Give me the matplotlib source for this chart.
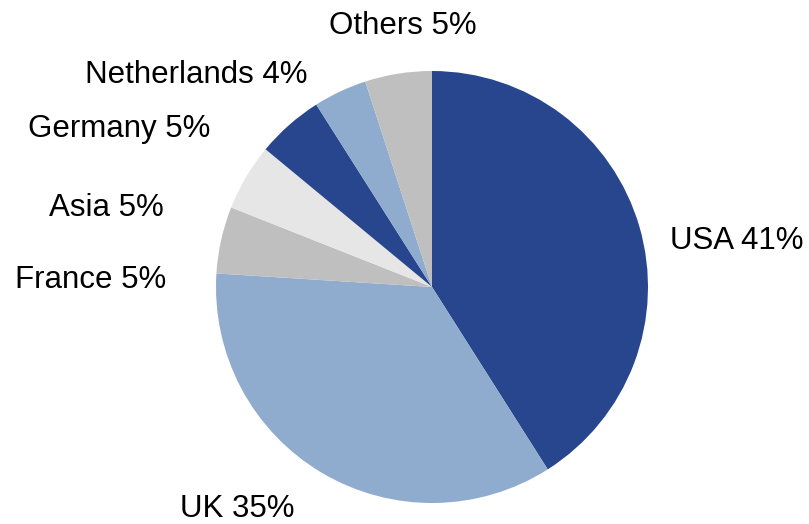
import matplotlib.pyplot as plt

# Share of total by region
regions = ['USA', 'UK', 'France', 'Asia', 'Germany', 'Netherlands', 'Others']
shares = [41, 35, 5, 5, 5, 4, 5]

dark_blue = '#28468D'
light_blue = '#8FACCF'
grey = '#BFBFBF'
light_grey = '#E6E6E6'
colors = [dark_blue, light_blue, grey, light_grey, dark_blue, light_blue, grey]

# label anchors in pixel space (x, baseline y from top, alignment)
label_pos = [
    (670, 249, 'left'),
    (237, 517, 'center'),
    (166, 288, 'right'),
    (164, 216, 'right'),
    (210, 137, 'right'),
    (308, 83, 'right'),
    (403, 34, 'center'),
]

W, H = 809, 524
fig = plt.figure(figsize=(W / 100, H / 100), dpi=100)
ax = fig.add_axes([0, 0, 1, 1])
ax.set_xlim(0, W)
ax.set_ylim(0, H)
ax.set_aspect('equal')
ax.axis('off')

# pie laid out directly in pixel units, clockwise from 12 o'clock
ax.pie(shares, colors=colors, startangle=90, counterclock=False,
       center=(432, H - 287), radius=216,
       wedgeprops=dict(linewidth=0), frame=True)
ax.set_xlim(0, W)
ax.set_ylim(0, H)
ax.axis('off')

for name, val, (x, y, ha) in zip(regions, shares, label_pos):
    ax.text(x, H - y, f'{name} {val}%', ha=ha, va='baseline',
            fontsize=22.5, family='Liberation Sans', color='black')

fig.savefig('out.png', dpi=100)
